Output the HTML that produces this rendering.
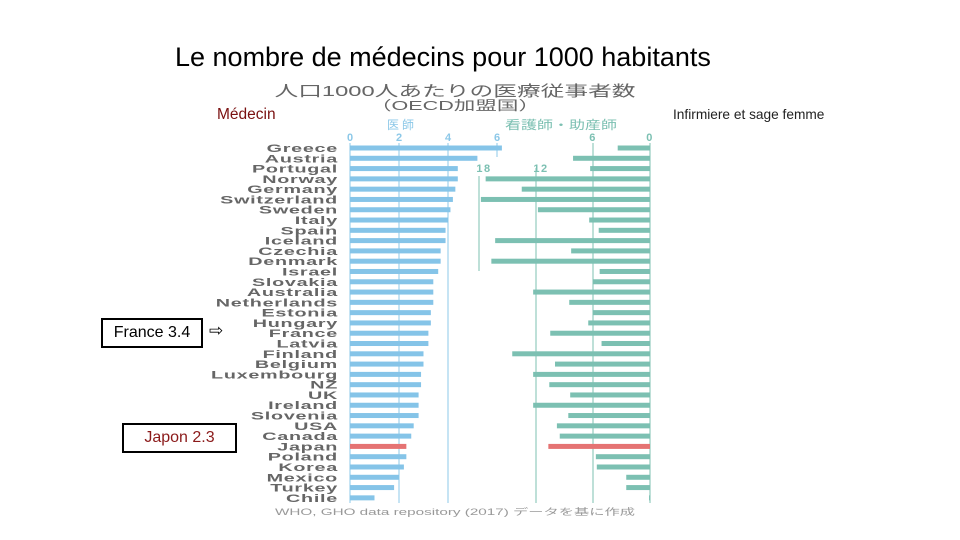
<!DOCTYPE html>
<html><head><meta charset="utf-8"><style>
body{margin:0;width:960px;height:540px;background:#fff;overflow:hidden;position:relative;font-family:"Liberation Sans",sans-serif}
.t{position:absolute;white-space:nowrap}
</style></head><body>
<div class="t" style="left:175px;top:42px;font-size:27px;color:#000">Le nombre de médecins pour 1000 habitants</div>
<div class="t" style="left:217px;top:106px;font-size:15.5px;color:#7a1010">Médecin</div>
<div class="t" style="left:673px;top:107px;font-size:13.7px;color:#222">Infirmiere et sage femme</div>
<div class="t" style="left:101px;top:318px;width:98px;height:26px;border:2px solid #000;font-size:16px;line-height:26px;text-align:center">France 3.4</div>
<div class="t" style="left:209px;top:321px;font-size:17px">⇨</div>
<div class="t" style="left:122px;top:423px;width:111px;height:26px;border:2px solid #000;font-size:16px;line-height:26px;text-align:center;color:#8b1a1a">Japon 2.3</div>
<svg id="chart" width="960" height="540" style="position:absolute;left:0;top:0" font-family="'Liberation Sans','Noto Sans CJK JP',sans-serif"></svg>
<script>
const countries=["Greece","Austria","Portugal","Norway","Germany","Switzerland","Sweden","Italy","Spain","Iceland","Czechia","Denmark","Israel","Slovakia","Australia","Netherlands","Estonia","Hungary","France","Latvia","Finland","Belgium","Luxembourg","NZ","UK","Ireland","Slovenia","USA","Canada","Japan","Poland","Korea","Mexico","Turkey","Chile"];
const doctors=[6.2,5.2,4.4,4.4,4.3,4.2,4.1,4.0,3.9,3.9,3.7,3.7,3.6,3.4,3.4,3.4,3.3,3.3,3.2,3.2,3.0,3.0,2.9,2.9,2.8,2.8,2.8,2.6,2.5,2.3,2.3,2.2,2.0,1.8,1.0];
const nurses=[3.4,8.1,6.3,17.3,13.5,17.8,11.8,6.4,5.4,16.3,8.3,16.7,5.3,6.0,12.3,8.5,6.0,6.5,10.5,5.1,14.5,10.0,12.3,10.6,8.4,12.3,8.6,9.8,9.5,10.7,5.7,5.6,2.5,2.5,0.1];
const docTicks=[0,2,4,6];
const nurseTicks=[18,12,6,0];
const svg=document.getElementById('chart');
const NS='http://www.w3.org/2000/svg';
const dx=v=>350+v*24.5;
const nx=v=>650-v*9.5;
const ry=i=>148+i*10.29;
function mk(tag,at,parent){const e=document.createElementNS(NS,tag);for(const k in at)e.setAttribute(k,at[k]);(parent||svg).appendChild(e);return e;}
function tx(x,y,s,at,parent){const e=mk('text',Object.assign({x:x,y:y},at),parent);e.textContent=s;return e;}
let e;
e=tx(455,96,"人口1000人あたりの医療従事者数",{'font-size':15,fill:'#666','text-anchor':'middle',textLength:361,lengthAdjust:'spacingAndGlyphs'});


e=tx(455,110,"（OECD加盟国）",{'font-size':13,fill:'#666','text-anchor':'middle',textLength:170,lengthAdjust:'spacingAndGlyphs'});


e=tx(402,129,"医師",{'font-size':12,fill:'#8cc8e8','text-anchor':'middle','letter-spacing':'3'});


e=tx(561,129,"看護師・助産師",{'font-size':12,fill:'#7cc0b2','text-anchor':'middle',textLength:112,lengthAdjust:'spacingAndGlyphs'});


docTicks.forEach(v=>{
  const l=mk('line',{x1:dx(v),x2:dx(v),y1:143,y2:v==6?157:503,stroke:'#8cc8e8','stroke-width':1});
  
  
  const t=tx(dx(v),141,String(v),{'font-size':11,fill:'#8cc8e8','text-anchor':'middle','font-weight':'bold'});
  
  
});
nurseTicks.forEach(v=>{
  let y1=143,y2=503,ty=141;
  if(v==18){y1=176;y2=271;ty=172;}
  if(v==12){y1=168;ty=172;}
  const l=mk('line',{x1:nx(v),x2:nx(v),y1:y1,y2:y2,stroke:'#7cc0b2','stroke-width':1});
  
  
  const t=tx(nx(v)+(v>=12?5:0),ty,String(v),{'font-size':11,fill:'#7cc0b2','text-anchor':'middle','font-weight':'bold','letter-spacing':'1.5'});
  
  
});
const labelGroup=mk('g',{transform:'translate(338,0) scale(1.8,1)'});


countries.forEach((c,i)=>{
  const y=ry(i),jp=c=="Japan";
  const t=tx(0,y+4,c,{'font-size':11,fill:'#666','text-anchor':'end','font-weight':'bold','letter-spacing':'0.4'},labelGroup);
  
  
  const b=mk('rect',{x:dx(0),y:y-2.5,width:dx(doctors[i])-dx(0),height:5,fill:jp?'#e57373':'#85c4e8'});
  
  
  const n=mk('rect',{x:nx(nurses[i]),y:y-2.5,width:nx(0)-nx(nurses[i]),height:5,fill:jp?'#e57373':'#7cc0b2'});
  
  
});
e=tx(455,515,"WHO, GHO data repository (2017) データを基に作成",{'font-size':9,fill:'#999','text-anchor':'middle',textLength:360,lengthAdjust:'spacingAndGlyphs'});


</script>
</body></html>
